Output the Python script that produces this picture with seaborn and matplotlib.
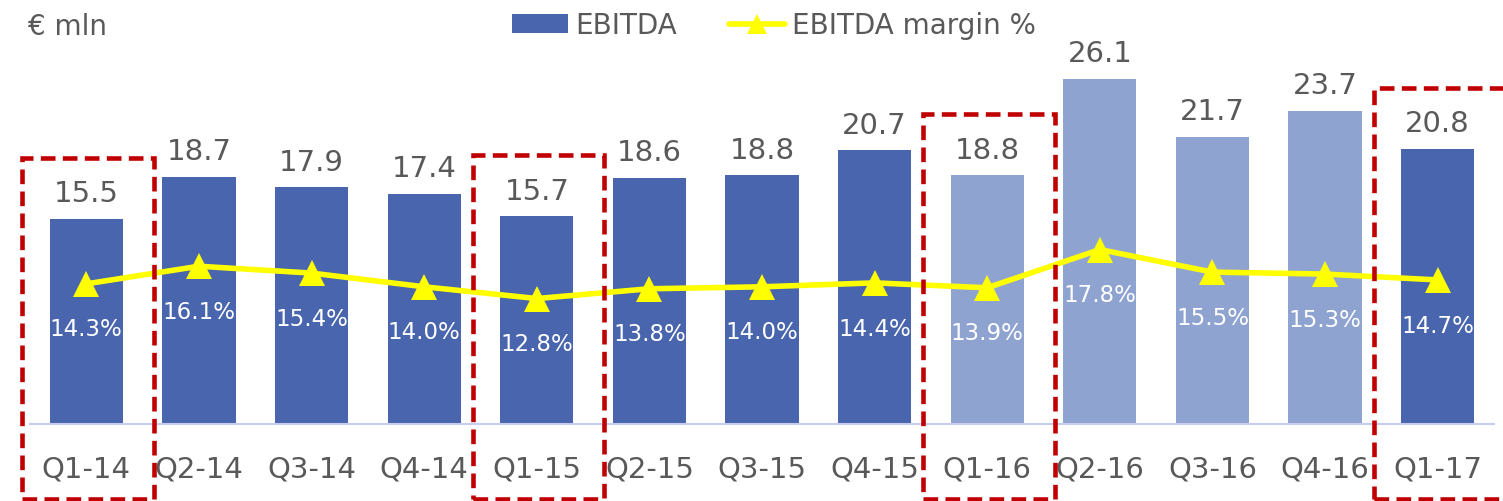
import numpy as np
import pandas as pd
import seaborn as sns
import matplotlib.pyplot as plt
from matplotlib.patches import Patch, Rectangle
from matplotlib.lines import Line2D

quarters = ["Q1-14", "Q2-14", "Q3-14", "Q4-14", "Q1-15", "Q2-15", "Q3-15",
            "Q4-15", "Q1-16", "Q2-16", "Q3-16", "Q4-16", "Q1-17"]
ebitda = [15.5, 18.7, 17.9, 17.4, 15.7, 18.6, 18.8, 20.7, 18.8, 26.1, 21.7, 23.7, 20.8]
margin = [14.3, 16.1, 15.4, 14.0, 12.8, 13.8, 14.0, 14.4, 13.9, 17.8, 15.5, 15.3, 14.7]
highlight = ["Q1-14", "Q1-15", "Q1-16", "Q1-17"]
restated = ["Q1-16", "Q2-16", "Q3-16", "Q4-16"]

DARK = "#4965AD"
LIGHT = "#8FA3D0"
YELLOW = "#FFFF00"
RED = "#C00000"
GREY = "#595959"

sns.set_theme(style="white")
plt.rcParams["font.family"] = ["DejaVu Sans"]

df = pd.DataFrame({"quarter": quarters, "ebitda": ebitda, "margin": margin})
df["pos"] = np.arange(len(df))
colors = [LIGHT if q in restated else DARK for q in quarters]

fig = plt.figure(figsize=(15.03, 5.02), dpi=100)
ax = fig.add_axes([30 / 1503, 77 / 502, 1464 / 1503, 425 / 502])

sns.barplot(data=df, x="quarter", y="ebitda", hue="quarter", palette=colors,
            width=0.65, linewidth=0, saturation=1, legend=False, ax=ax)
ax.set_xlim(-0.5, 12.5)
ax.set_ylim(0, 425 / 13.22)

for i, v in enumerate(ebitda):
    ax.annotate(f"{v:.1f}", (i, v), xytext=(0, 18.5), textcoords="offset points",
                ha="center", va="center", fontsize=21, color=GREY)

ax2 = ax.twinx()
sns.lineplot(data=df, x="pos", y="margin", color=YELLOW, lw=4, marker="^",
             markersize=19, markeredgewidth=0, ax=ax2, zorder=3)
ax2.set_ylim(0, 425 / 9.8)
ax2.set_xlim(-0.5, 12.5)

for i, m in enumerate(margin):
    ax2.annotate(f"{m:.1f}%", (i, m), xytext=(0, -32.5), textcoords="offset points",
                 ha="center", va="center", fontsize=16.5, color="white")

# dashed boxes around Q1 of each year
for i, q in enumerate(quarters):
    if q in highlight:
        top = ebitda[i] + 4.65
        rect = Rectangle((i - 0.57, -5.68), 1.17, top + 5.68, fill=False,
                         edgecolor=RED, lw=3.3, linestyle=(0, (3.2, 1.6)),
                         transform=ax.transData, clip_on=False, zorder=6)
        ax2.add_patch(rect)

for a in (ax, ax2):
    for s in ("top", "left", "right"):
        a.spines[s].set_visible(False)
    a.set_yticks([])
    a.set_ylabel("")
ax.set_xlabel("")
ax2.spines["bottom"].set_visible(False)
ax.spines["bottom"].set_color("#C9CCF2")
ax.spines["bottom"].set_linewidth(1.5)
ax.set_xticks(range(len(quarters)))
ax.set_xticklabels(quarters, fontsize=21, color=GREY)
ax.tick_params(axis="x", length=0, pad=22, labelbottom=True)
ax2.tick_params(axis="x", labelbottom=False, labeltop=False, length=0)

fig.text(28 / 1503, 1 - 27 / 502, "€ mln", fontsize=20, color=GREY, va="center")

handles = [Patch(facecolor=DARK, edgecolor="none"),
           Line2D([0], [0], color=YELLOW, lw=4, marker="^", markersize=15, markeredgewidth=0)]
fig.legend(handles, ["EBITDA", "EBITDA margin %"], loc="upper center",
           bbox_to_anchor=(774 / 1503, 1.025), ncol=2, frameon=False, fontsize=20,
           labelcolor=GREY, handlelength=2.0, handletextpad=0.25, columnspacing=1.9)

fig.savefig("out.png", dpi=100)
